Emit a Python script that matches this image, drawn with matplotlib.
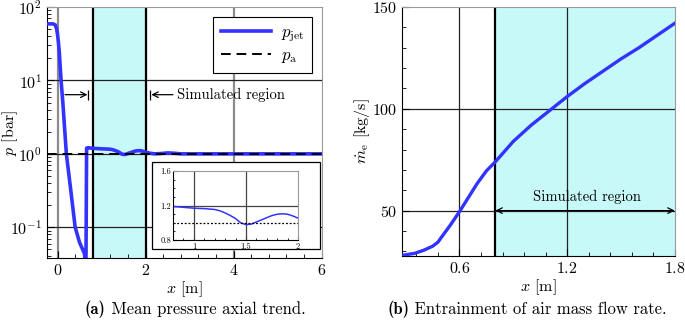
import numpy as np
import matplotlib
matplotlib.use('Agg')
import matplotlib.pyplot as plt
from matplotlib.patches import Rectangle
from matplotlib.ticker import MultipleLocator, LogLocator, NullFormatter

plt.rcParams['font.family'] = 'cmr10'
plt.rcParams['mathtext.fontset'] = 'cm'
plt.rcParams['axes.formatter.use_mathtext'] = True
plt.rcParams['axes.unicode_minus'] = False

# ---- data ----
x_jet = [-0.24, -0.1, -0.05, -0.02, 0.0, 0.02, 0.04, 0.08, 0.12, 0.2, 0.3, 0.4, 0.5,
         0.61, 0.64, 0.645, 0.66, 0.7, 0.8, 0.9, 1.0, 1.1, 1.2, 1.25, 1.3, 1.35, 1.4,
         1.45, 1.5, 1.55, 1.6, 1.65, 1.7, 1.75, 1.8, 1.85, 1.9, 1.95, 2.0, 2.1, 2.2,
         2.35, 2.5, 2.65, 2.8, 3.0, 6.0]
p_jet = [59, 59, 57, 50, 42, 33, 24, 10, 5, 1.0, 0.32, 0.1, 0.062,
         0.044, 0.03, 0.03, 1.2, 1.21, 1.19, 1.18, 1.17, 1.165, 1.155, 1.14, 1.115, 1.085, 1.05,
         1.0, 0.98, 0.985, 1.01, 1.035, 1.06, 1.085, 1.10, 1.105, 1.1, 1.08, 1.055, 1.02, 1.0,
         1.01, 1.03, 1.02, 1.0, 1.0, 1.0]
p_a = 1.0

x_me = [0.28, 0.35, 0.4, 0.45, 0.48, 0.5, 0.55, 0.6, 0.65, 0.7, 0.75, 0.8, 0.9, 1.0,
        1.1, 1.2, 1.3, 1.4, 1.5, 1.6, 1.7, 1.8]
m_e = [28, 29, 30.5, 32.5, 34.5, 37, 43, 49.5, 56.5, 63.5, 69.5, 74, 84, 92,
       99, 106, 112.5, 118.5, 124.5, 130, 136, 142]

sim_a = (0.8, 2.0)
sim_b = (0.8, 1.8)

blue = '#3333ff'
cyan = '#c8f9f9'
fs = 11.5

fig = plt.figure(figsize=(6.85, 3.21), dpi=100)

# ---------- (a) ----------
ax1 = fig.add_axes([0.0686, 0.196, 0.401, 0.782])
ax1.axvspan(sim_a[0], sim_a[1], color=cyan, zorder=0)
for xv in [0, 4]:
    ax1.axvline(xv, color='#8c8c8c', lw=1.6, zorder=1)
for yv in [0.1, 1, 10]:
    ax1.axhline(yv, color='#222222', lw=0.9, zorder=1)
for xv in sim_a:
    ax1.axvline(xv, color='k', lw=1.6, zorder=2)
ax1.plot(x_jet, p_jet, color=blue, lw=2.6, label=r'$p_\mathrm{jet}$', zorder=4)
ax1.axhline(p_a, color='k', lw=1.4, ls=(0, (5, 3)), label=r'$p_\mathrm{a}$', zorder=5)
ax1.set_yscale('log')
ax1.set_xlim(-0.24, 6)
ax1.set_ylim(0.038, 100)
ax1.set_xticks([0, 2, 4, 6])
ax1.xaxis.set_minor_locator(MultipleLocator(0.4))
ax1.yaxis.set_minor_locator(LogLocator(subs=np.arange(2, 10)))
ax1.yaxis.set_minor_formatter(NullFormatter())
ax1.tick_params(direction='in', labelsize=fs, length=5)
ax1.tick_params(which='minor', direction='in', length=3)
ax1.set_xlabel(r'$x$ [m]', fontsize=fs, labelpad=1)
ax1.set_ylabel(r'$p$ [bar]', fontsize=fs)
ax1.yaxis.set_label_coords(-0.10, 0.5)
for s in ['top', 'right']:
    ax1.spines[s].set_color('#999999')

leg = ax1.legend(loc='upper right', bbox_to_anchor=(0.965, 0.96), fontsize=12,
                 fancybox=False, edgecolor='k', framealpha=1, handlelength=3.0,
                 borderpad=0.45, labelspacing=0.25, borderaxespad=0, handletextpad=0.6)
leg.get_frame().set_linewidth(0.8)

# annotation arrows
y_ann = 6.4
ax1.annotate('', xy=(0.68, y_ann), xytext=(0.17, y_ann),
             arrowprops=dict(arrowstyle='->', color='k', lw=0.9, shrinkA=0, shrinkB=0))
ax1.plot([0.70, 2.11], [y_ann, y_ann], ls='none', marker='|', ms=7, mew=0.9, color='k')
ax1.annotate('', xy=(2.13, y_ann), xytext=(2.62, y_ann),
             arrowprops=dict(arrowstyle='->', color='k', lw=0.9, shrinkA=0, shrinkB=0))
ax1.text(2.72, y_ann, 'Simulated region', fontsize=10.5, va='center', ha='left')

# inset
ax1.add_patch(Rectangle((0.382, 0.036), 0.612, 0.347, transform=ax1.transAxes,
                        facecolor='white', edgecolor='k', lw=0.9, zorder=6))
axi = fig.add_axes([0.2526, 0.252, 0.1825, 0.215])
axi.set_zorder(10)
for xv in [1, 1.5]:
    axi.axvline(xv, color='#444444', lw=0.9)
axi.axhline(1.2, color='#444444', lw=0.9)
axi.plot(x_jet, p_jet, color=blue, lw=1.1)
axi.axhline(p_a, color='k', lw=0.9, ls=(0, (1.5, 1.5)))
axi.set_xlim(0.8, 2)
axi.set_ylim(0.8, 1.6)
axi.set_xticks([1, 1.5, 2])
axi.set_xticklabels(['1', '1.5', '2'])
axi.set_yticks([0.8, 1.2, 1.6])
axi.set_yticklabels(['0.8', '1.2', '1.6'])
axi.xaxis.set_minor_locator(MultipleLocator(0.1))
axi.yaxis.set_minor_locator(MultipleLocator(0.1))
axi.tick_params(direction='in', labelsize=6, length=3, pad=1.5)
axi.tick_params(which='minor', direction='in', length=1.5)
for s in ['top', 'right']:
    axi.spines[s].set_color('#999999')

# ---------- (b) ----------
ax2 = fig.add_axes([0.587, 0.2025, 0.398, 0.7755])
ax2.axvspan(sim_b[0], sim_b[1], color=cyan, zorder=0)
for xv in [0.6, 1.2]:
    ax2.axvline(xv, color='#222222', lw=0.9, zorder=1)
for yv in [50, 100]:
    ax2.axhline(yv, color='#222222', lw=0.9, zorder=1)
ax2.axvline(sim_b[0], color='k', lw=1.6, zorder=2)
ax2.plot(x_me, m_e, color=blue, lw=2.4, zorder=4)
ax2.set_xlim(0.28, 1.8)
ax2.set_ylim(27.7, 150)
ax2.set_xticks([0.6, 1.2, 1.8])
ax2.set_yticks([50, 100, 150])
ax2.xaxis.set_minor_locator(MultipleLocator(0.12))
ax2.yaxis.set_minor_locator(MultipleLocator(10))
ax2.tick_params(direction='in', labelsize=fs, length=5)
ax2.tick_params(which='minor', direction='in', length=3)
ax2.set_xlabel(r'$x$ [m]', fontsize=fs, labelpad=1)
ax2.set_ylabel(r'$\dot{m}_\mathrm{e}$ [kg/s]', fontsize=fs)
ax2.yaxis.set_label_coords(-0.11, 0.5)
for s in ['top', 'right']:
    ax2.spines[s].set_color('#999999')
ax2.annotate('', xy=(1.8, 50), xytext=(0.8, 50),
             arrowprops=dict(arrowstyle='<->', color='k', lw=0.9, shrinkA=0, shrinkB=0))
ax2.text(1.31, 56.5, 'Simulated region', fontsize=10.5, ha='center', va='center')

# captions: bold tag followed by regular text
cap_y = 0.022
for x0, tag, txt in [(0.124, '(a)', ' Mean pressure axial trend.'),
                     (0.565, '(b)', ' Entrainment of air mass flow rate.')]:
    t = fig.text(x0, cap_y, tag, fontfamily='cmb10', fontsize=12, ha='left', va='baseline')
    ax1.annotate(txt, xy=(1, cap_y), xycoords=(t, 'figure fraction'), fontsize=12,
                 ha='left', va='baseline', annotation_clip=False)

fig.savefig('out.png', dpi=100)
